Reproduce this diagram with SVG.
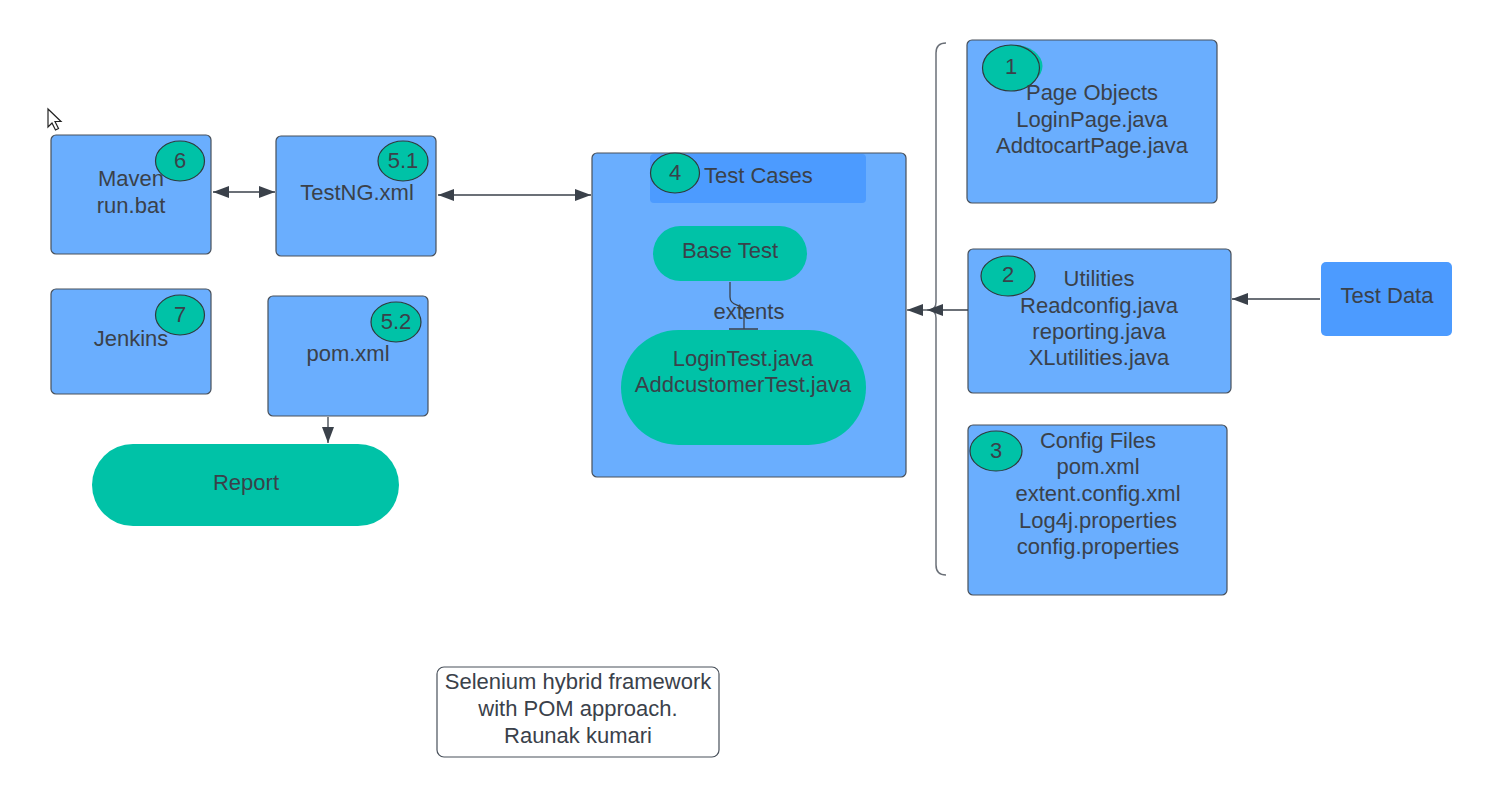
<svg xmlns="http://www.w3.org/2000/svg" width="1493" height="797" viewBox="0 0 1493 797">
<defs>
<style>
.box{fill:#6aaefe;stroke:#48505a;stroke-width:1.2}
.hdr{fill:#4c9bff;stroke:none}
.pill{fill:#00c2a7;stroke:none}
.badge{fill:#00c2a7;stroke:#2f3a3c;stroke-width:1.2}
.t{font-family:"Liberation Sans",Arial,sans-serif;font-size:22px;fill:#3a414a;text-anchor:middle}
.n{font-family:"Liberation Sans",Arial,sans-serif;font-size:22px;fill:#3a414a;text-anchor:middle}
.c{fill:none;stroke:#3a414a;stroke-width:1.3}
.br{fill:none;stroke:#6b7078;stroke-width:1.5}
</style>
<marker id="ah" viewBox="0 0 16 12" refX="16" refY="6" markerWidth="16" markerHeight="12" markerUnits="userSpaceOnUse" orient="auto-start-reverse">
<path d="M0 0 L16 6 L0 12 Z" fill="#3a414a"/>
</marker>
</defs>
<rect width="1493" height="797" fill="#ffffff"/>

<!-- cursor -->
<path d="M48 109 L48 127 L52 123 L55.5 130 L58.5 128.5 L55 121.5 L61 121.5 Z" fill="#ffffff" stroke="#222" stroke-width="1.2"/>

<g id="maven">
<rect class="box" x="51" y="135" width="160" height="119" rx="5"/>
<text class="t" x="131" y="186">Maven</text>
<text class="t" x="131" y="213">run.bat</text>
<ellipse class="badge" cx="180" cy="161" rx="24.5" ry="20"/>
<text class="n" x="180" y="168">6</text>
</g>

<g id="testng">
<rect class="box" x="276" y="136" width="160" height="120" rx="5"/>
<text class="t" x="357" y="200">TestNG.xml</text>
<ellipse class="badge" cx="403" cy="161" rx="25" ry="20"/>
<text class="n" x="403" y="168">5.1</text>
</g>

<g id="jenkins">
<rect class="box" x="51" y="289" width="160" height="105" rx="5"/>
<text class="t" x="131" y="346">Jenkins</text>
<ellipse class="badge" cx="180" cy="315" rx="24.5" ry="20"/>
<text class="n" x="180" y="322">7</text>
</g>

<g id="pom">
<rect class="box" x="268" y="296" width="160" height="120" rx="5"/>
<text class="t" x="348" y="361">pom.xml</text>
<ellipse class="badge" cx="396" cy="322" rx="25" ry="20"/>
<text class="n" x="396" y="329">5.2</text>
</g>

<g id="report">
<rect class="pill" x="92" y="444" width="307" height="82" rx="41"/>
<text class="t" x="246" y="490">Report</text>
</g>

<g id="testcases">
<rect class="box" x="592" y="153" width="314" height="324" rx="5"/>
<rect class="hdr" x="650" y="154" width="216" height="49" rx="4"/>
<ellipse class="badge" cx="675" cy="173" rx="24.5" ry="20"/>
<text class="n" x="675" y="180">4</text>
<text class="t" x="704" y="183" style="text-anchor:start">Test Cases</text>
</g>

<g id="basetest">
<rect class="pill" x="653" y="226" width="154" height="55" rx="27.5"/>
<text class="t" x="730" y="258">Base Test</text>
</g>

<g id="logintest">
<rect class="pill" x="621" y="330" width="245" height="115" rx="57.5"/>
<text class="t" x="743" y="366">LoginTest.java</text>
<text class="t" x="743" y="392">AddcustomerTest.java</text>
</g>

<g id="pageobjects">
<rect class="box" x="967" y="40" width="250" height="163" rx="5"/>
<ellipse cx="1014" cy="66" rx="28.5" ry="21" fill="#00c2a7"/>
<ellipse class="badge" cx="1011" cy="68" rx="28.5" ry="23"/>
<text class="n" x="1011" y="74">1</text>
<text class="t" x="1092" y="100">Page Objects</text>
<text class="t" x="1092" y="127">LoginPage.java</text>
<text class="t" x="1092" y="153">AddtocartPage.java</text>
</g>

<g id="utilities">
<rect class="box" x="968" y="249" width="263" height="144" rx="5"/>
<ellipse class="badge" cx="1008" cy="276" rx="27" ry="20"/>
<text class="n" x="1008" y="282">2</text>
<text class="t" x="1099" y="286">Utilities</text>
<text class="t" x="1099" y="313">Readconfig.java</text>
<text class="t" x="1099" y="339">reporting.java</text>
<text class="t" x="1099" y="365">XLutilities.java</text>
</g>

<g id="configfiles">
<rect class="box" x="968" y="425" width="259" height="170" rx="5"/>
<ellipse class="badge" cx="996" cy="451" rx="26" ry="20"/>
<text class="n" x="996" y="458">3</text>
<text class="t" x="1098" y="448">Config Files</text>
<text class="t" x="1098" y="474">pom.xml</text>
<text class="t" x="1098" y="501">extent.config.xml</text>
<text class="t" x="1098" y="528">Log4j.properties</text>
<text class="t" x="1098" y="554">config.properties</text>
</g>

<g id="testdata">
<rect class="hdr" x="1321" y="262" width="131" height="74" rx="5"/>
<text class="t" x="1387" y="303">Test Data</text>
</g>

<g id="note">
<rect x="437" y="667" width="282" height="90" rx="7" fill="#ffffff" stroke="#48505a" stroke-width="1.2"/>
<text class="t" x="578" y="689">Selenium hybrid framework</text>
<text class="t" x="578" y="716">with POM approach.</text>
<text class="t" x="578" y="743">Raunak kumari</text>
</g>

<g id="connectors">
<line class="c" x1="213" y1="192" x2="275" y2="192" marker-start="url(#ah)" marker-end="url(#ah)"/>
<line class="c" x1="438" y1="195" x2="591" y2="195" marker-start="url(#ah)" marker-end="url(#ah)"/>
<line class="c" x1="328" y1="417" x2="328" y2="443" marker-end="url(#ah)"/>
<line class="c" x1="1320" y1="299" x2="1232" y2="299" marker-end="url(#ah)"/>
<path class="br" d="M946 43 Q936 43 936 53 L936 302 Q936 310 929 310 Q936 310 936 318 L936 565 Q936 575 946 575"/>
<line class="c" x1="968" y1="310" x2="927" y2="310" marker-end="url(#ah)"/>
<line class="c" x1="927" y1="310" x2="907" y2="310" marker-end="url(#ah)"/>
<path class="c" d="M730 282 L730 297 Q730 303 737 305 Q744 307 744 313 L744 329 M729 329 L758 329" stroke-width="1.2"/>
<text class="t" x="749" y="319">extents</text>
</g>
</svg>
